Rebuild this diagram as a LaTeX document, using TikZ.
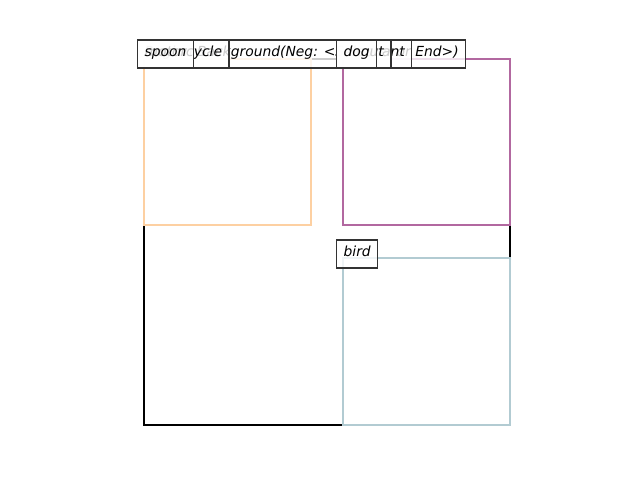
\documentclass[tikz,border=0pt]{standalone}
\usepackage{fontspec}
\setmainfont{DejaVu Sans}
\definecolor{peach}{RGB}{253,208,162}
\definecolor{mauve}{RGB}{178,104,160}
\definecolor{steel}{RGB}{178,203,210}
\tikzset{
  tag/.style={draw=black!80, line width=0.9pt, fill=white, fill opacity=0.8,
    text opacity=1, anchor=west, inner xsep=5.25pt, inner ysep=0pt,
    minimum height=21pt, text height=0.7em, text depth=0.3em,
    font=\fontsize{10.4}{12}\selectfont\itshape},
  region/.style={line width=1.9pt}
}
\begin{document}
\begin{tikzpicture}[x=0.75pt, y=-0.75pt]
    % Parameters
    \def\lx{137}
    \def\rx{336}
    \def\ty{54}
    \useasboundingbox (0,0) rectangle (640,480);

    % image frame
    \draw[region, black] (144,59) rectangle (510,425);

    % detected regions
    \draw[region, peach] (144,59) rectangle (311,225);
    \draw[region, mauve] (343,59) rectangle (510,225);
    \draw[region, steel] (343,258) rectangle (510,425);

    % labels (later ones cover earlier ones)
    \node[tag] (bg) at (\lx,\ty) {Region Background(Neg: <Speaker or End>)};
    \node[tag] (motorcycle) at (\lx,\ty) {motorcycle};
    \node[tag] (spoon) at (\lx,\ty) {spoon};
    \node[tag] (elephant) at (\rx,\ty) {elephant};
    \node[tag] (donut) at (\rx,\ty) {donut};
    \node[tag] (dog) at (\rx,\ty) {dog};
    \node[tag] (bird) at (\rx,254) {bird};
\end{tikzpicture}
\end{document}
